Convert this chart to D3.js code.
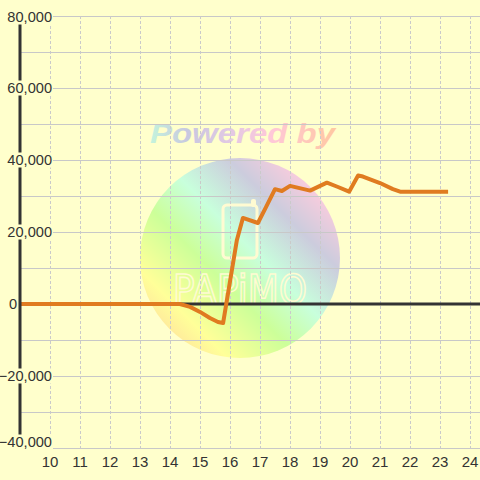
<!DOCTYPE html>
<html><head><meta charset="utf-8">
<script src="https://cdn.jsdelivr.net/npm/d3@7"></script>
<style>html,body{margin:0;padding:0;background:#ffffcc;}svg{display:block;}</style>
</head><body>
<script>
// ---- data ----
const hours  = [9, 14.33, 14.67, 15.0, 15.33, 15.6, 15.77, 16.23, 16.43, 16.93, 17.2, 17.5, 17.73, 18.0, 18.67, 19.23, 19.6, 19.97, 20.27, 20.43, 21.0, 21.43, 21.67, 23.27];
const values = [0, 0, -800, -2200, -3900, -5000, -5300, 17800, 23900, 22500, 26900, 31900, 31400, 32800, 31500, 33700, 32500, 31200, 35700, 35400, 33600, 31900, 31200, 31200];
const xTicks = [10,11,12,13,14,15,16,17,18,19,20,21,22,23,24];
const yGrid  = [-40000,-30000,-20000,-10000,0,10000,20000,30000,40000,50000,60000,70000,80000];
const yLabels = [-40000,-20000,0,20000,40000,60000,80000];

const W=480,H=480;
const svg=d3.select("body").append("svg").attr("width",W).attr("height",H);
svg.append("rect").attr("width",W).attr("height",H).attr("fill","#ffffcc");

const x=d3.scaleLinear().domain([9,24.3333]).range([20,480]);
const y=d3.scaleLinear().domain([-40000,80000]).range([448,16]);

// ---- watermark ----
const defs=svg.append("defs");
const cg=defs.append("linearGradient").attr("id","cg").attr("x1","0%").attr("y1","100%").attr("x2","100%").attr("y2","0%");
[[0,"#ffc8a0"],[0.22,"#ffff99"],[0.4,"#ccff99"],[0.55,"#c8ffdc"],[0.72,"#ccccdd"],[0.88,"#ffccdd"],[1,"#ffccdd"]]
 .forEach(s=>cg.append("stop").attr("offset",s[0]).attr("stop-color",s[1]));
const tg=defs.append("linearGradient").attr("id","tg").attr("x1","0%").attr("y1","0%").attr("x2","100%").attr("y2","0%");
[[0,"#c4f4dc"],[0.2,"#c8c8e0"],[0.45,"#e4c8e4"],[0.65,"#ffc8d8"],[1,"#ffc8a0"]]
 .forEach(s=>tg.append("stop").attr("offset",s[0]).attr("stop-color",s[1]));

const wm=svg.append("g");
wm.append("circle").attr("cx",240).attr("cy",258).attr("r",100).attr("fill","url(#cg)");
wm.append("text").attr("x",150).attr("y",143).attr("font-family","Liberation Sans, Arial, sans-serif")
  .attr("font-size",28).attr("font-weight","bold").attr("font-style","italic")
  .attr("textLength",185).attr("lengthAdjust","spacingAndGlyphs")
  .attr("fill","url(#tg)").text("Powered by");
const cream="#fffbd2";
wm.append("rect").attr("x",223).attr("y",205).attr("width",34).attr("height",53).attr("rx",4)
  .attr("fill","none").attr("stroke",cream).attr("stroke-width",3);
wm.append("rect").attr("x",251).attr("y",199).attr("width",5).attr("height",8).attr("rx",2)
  .attr("fill",cream);
wm.append("text").attr("x",173).attr("y",304).attr("font-family","DejaVu Sans, sans-serif")
  .attr("font-size",40).attr("textLength",134).attr("lengthAdjust","spacingAndGlyphs")
  .attr("fill","none").attr("stroke",cream).attr("stroke-width",1.6).text("PAPiMO");

// ---- grid ----
svg.append("g").selectAll("line").data(yGrid).join("line")
  .attr("x1",20).attr("x2",480).attr("y1",d=>y(d)).attr("y2",d=>y(d))
  .attr("stroke","#c8c8c8").attr("stroke-width",1).attr("shape-rendering","crispEdges");
svg.append("g").selectAll("line").data(xTicks).join("line")
  .attr("x1",d=>x(d)).attr("x2",d=>x(d)).attr("y1",y(80000)).attr("y2",y(-40000))
  .attr("stroke","#cacaca").attr("stroke-width",1).attr("stroke-dasharray","3,2").attr("shape-rendering","crispEdges");

// zero line
svg.append("line").attr("x1",20).attr("x2",480).attr("y1",y(0)).attr("y2",y(0))
  .attr("stroke","#333").attr("stroke-width",3);

// ---- series ----
const line=d3.line().x((d,i)=>x(hours[i])).y(d=>y(d));
svg.append("path").attr("d",line(values)).attr("fill","none").attr("stroke","#e07b20")
  .attr("stroke-width",4).attr("stroke-linejoin","round");

// y axis line
svg.append("line").attr("x1",20).attr("x2",20).attr("y1",y(80000)).attr("y2",y(-40000))
  .attr("stroke","#333").attr("stroke-width",3);

// y labels with background
const fmt=d3.format(",");
const yl=svg.append("g").attr("font-family","Liberation Sans, Arial, sans-serif").attr("font-size",14.6).attr("fill","#333");
yLabels.forEach(v=>{
  let cy=y(v); cy=Math.max(17,Math.min(442,cy));
  const ax = v===0 ? 17 : 52;
  const t=yl.append("text").attr("x",ax).attr("y",cy).attr("text-anchor","end").attr("dominant-baseline","central").text(fmt(v));
  const bb=t.node().getBBox();
  yl.insert("rect","text").attr("x",bb.x-1).attr("y",cy-7.5).attr("width",bb.width+2).attr("height",15).attr("fill","#ffffcc");
});
// x labels
svg.append("g").attr("font-family","Liberation Sans, Arial, sans-serif").attr("font-size",15).attr("fill","#333")
  .selectAll("text").data(xTicks).join("text")
  .attr("x",d=>x(d)).attr("y",461).attr("text-anchor","middle").attr("dominant-baseline","central").text(d=>d);
</script>
</body></html>
